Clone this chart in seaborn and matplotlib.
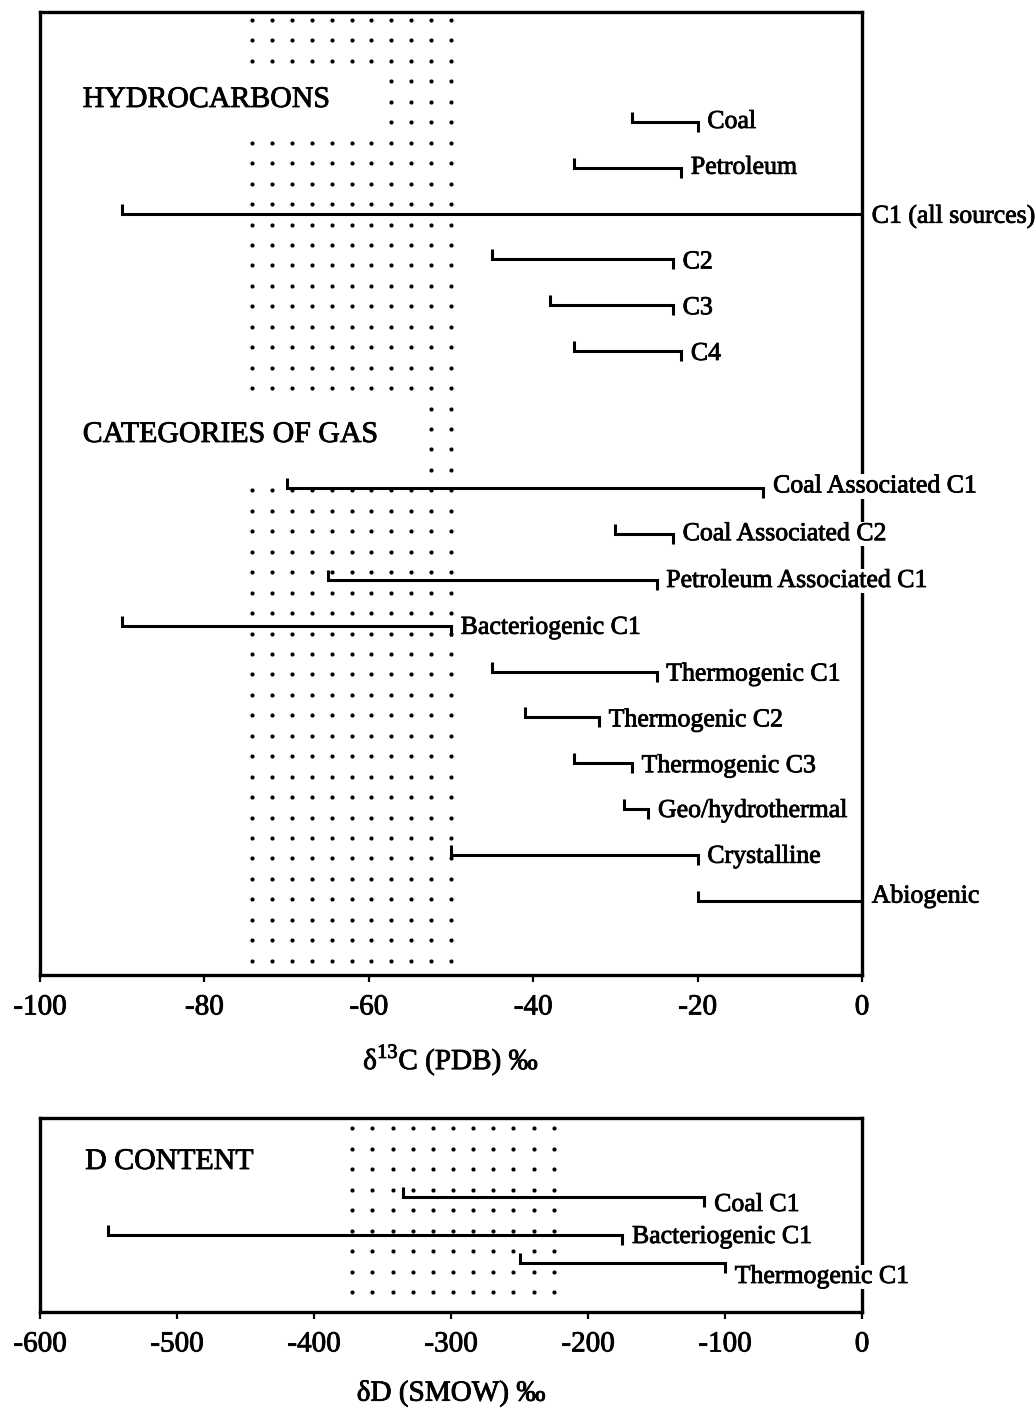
import numpy as np
import pandas as pd
import matplotlib
matplotlib.use("Agg")
import matplotlib.pyplot as plt
import matplotlib.patheffects as pe
import seaborn as sns

# ---- carbon isotope ranges, delta13C (PDB) per mil ----
hydro_names = ["Coal", "Petroleum", "C1 (all sources)", "C2", "C3", "C4"]
hydro_low = [-28, -35, -90, -45, -38, -35]
hydro_high = [-20, -22, 0, -23, -23, -22]

gas_names = ["Coal Associated C1", "Coal Associated C2", "Petroleum Associated C1",
             "Bacteriogenic C1", "Thermogenic C1", "Thermogenic C2", "Thermogenic C3",
             "Geo/hydrothermal", "Crystalline", "Abiogenic"]
gas_low = [-70, -30, -65, -90, -45, -41, -35, -29, -50, -20]
gas_high = [-12, -23, -25, -50, -25, -32, -28, -26, -20, 0]

# ---- deuterium ranges, deltaD (SMOW) per mil ----
d_names = ["Coal C1", "Bacteriogenic C1", "Thermogenic C1"]
d_low = [-335, -550, -250]
d_high = [-115, -175, -100]

# stippled bands
c_band = (-75, -50)
d_band = (-375, -225)

c_ticks = [-100, -80, -60, -40, -20, 0]
d_ticks = [-600, -500, -400, -300, -200, -100, 0]

# ---------------------------------------------------------------
sns.set_style("ticks")
plt.rcParams["font.family"] = ["Liberation Serif", "DejaVu Serif"]
plt.rcParams["axes.unicode_minus"] = False
plt.rcParams["text.color"] = "black"
plt.rcParams["axes.labelcolor"] = "black"
plt.rcParams["xtick.color"] = "black"

INK = [pe.withStroke(linewidth=0.6, foreground="black")]

W, H = 1036, 1414
fig = plt.figure(figsize=(W / 100, H / 100), dpi=100)
fig.patch.set_facecolor("white")

# axes boxes in pixels (left, top, right, bottom)
top_box = (40, 12, 862, 975)
bot_box = (40, 1118, 862, 1312)


def make_axes(box):
    l, t, r, b = box
    return fig.add_axes([l / W, 1 - b / H, (r - l) / W, (b - t) / H])


ax_c = make_axes(top_box)
ax_d = make_axes(bot_box)

LW = 2.2
TICK = 10  # bracket end-tick height (y units are pixels)
LABEL_FS = 18.6


def bracket_frame(names, lows, highs, ys):
    rows = []
    for n, lo, hi, y in zip(names, lows, highs, ys):
        pts = [(lo, y - TICK), (lo, y), (hi, y), (hi, y + TICK)]
        for k, (x, yy) in enumerate(pts):
            rows.append({"row": n, "step": k, "x": x, "y": yy})
    return pd.DataFrame(rows)


def dot_frame(band, n_cols, inset, ys, holes=()):
    xs = np.linspace(band[0] + inset, band[1], n_cols)
    gx, gy = np.meshgrid(xs, ys)
    df = pd.DataFrame({"x": gx.ravel(), "y": gy.ravel()})
    keep = np.ones(len(df), bool)
    for xmax, y0, y1 in holes:
        keep &= ~((df.x < xmax) & (df.y > y0) & (df.y < y1))
    return df[keep]


def style_axes(ax, xlim, ylim_px, ticks, xlabel):
    ax.set_xlim(*xlim)
    ax.set_ylim(ylim_px, 0)
    ax.set_xticks(ticks)
    ax.set_xticklabels([str(t) for t in ticks])
    ax.set_yticks([])
    ax.set_ylabel("")
    ax.tick_params(axis="x", direction="out", length=5, width=1.6,
                   pad=9, labelsize=21, colors="black")
    for lab in ax.get_xticklabels():
        lab.set_path_effects(INK)
    for s in ax.spines.values():
        s.set_visible(True)
        s.set_linewidth(2.4)
        s.set_color("black")
    lbl = ax.set_xlabel(xlabel, fontsize=21, labelpad=16)
    lbl.set_path_effects(INK)


def draw_labels(ax, names, highs, ys, dy_px=None, dx_pt=7):
    for i, (n, hi, y) in enumerate(zip(names, highs, ys)):
        dy = 0 if dy_px is None else dy_px[i]
        t = ax.annotate(n, xy=(hi, y), xytext=(dx_pt, -dy * 0.72),
                        textcoords="offset points", ha="left", va="center",
                        fontsize=LABEL_FS, zorder=4,
                        bbox=dict(boxstyle="square,pad=0.05", fc="white", ec="none"))
        t.set_path_effects(INK)


def heading(ax, x, y, s):
    t = ax.text(x, y, s, fontsize=21.5, ha="left", va="center")
    t.set_path_effects(INK)


# ---------------- upper panel: delta13C ----------------
top_h = top_box[3] - top_box[1]
step = 45.8
hydro_y = [110 + step * k for k in range(len(hydro_names))]
gas_y = [110 + step * (8 + k) for k in range(len(gas_names))]

c_dots = dot_frame(c_band, 11, 0.8, np.arange(8, 955, 20.45),
                   holes=[(-58.5, 55, 115), (-53.5, 385, 460)])
sns.scatterplot(data=c_dots, x="x", y="y", color="black", s=9,
                linewidth=0, ax=ax_c, legend=False, zorder=1)

br = pd.concat([bracket_frame(hydro_names, hydro_low, hydro_high, hydro_y),
                bracket_frame(gas_names, gas_low, gas_high, gas_y)])
sns.lineplot(data=br, x="x", y="y", units="row", estimator=None, sort=False,
             color="black", lw=LW, ax=ax_c, legend=False,
             solid_joinstyle="miter", solid_capstyle="butt", zorder=3)

draw_labels(ax_c, hydro_names, hydro_high, hydro_y,
            dy_px=[0, 0, 3, 3, 3, 3])
draw_labels(ax_c, gas_names, gas_high, gas_y,
            dy_px=[-2, 0, 1, 2, 3, 3, 3, 2, 2, -4])

heading(ax_c, -94.8, 88, "HYDROCARBONS")
heading(ax_c, -94.8, 423, "CATEGORIES OF GAS")

style_axes(ax_c, (-100, 0), top_h, c_ticks, r"δ$^{\mathregular{13}}$C (PDB) ‰")

# ---------------- lower panel: deltaD ----------------
bot_h = bot_box[3] - bot_box[1]
d_y = [79, 117, 145]

d_dots = dot_frame(d_band, 11, 3, np.arange(10, 180, 20.5))
sns.scatterplot(data=d_dots, x="x", y="y", color="black", s=9,
                linewidth=0, ax=ax_d, legend=False, zorder=1)

brd = bracket_frame(d_names, d_low, d_high, d_y)
sns.lineplot(data=brd, x="x", y="y", units="row", estimator=None, sort=False,
             color="black", lw=LW, ax=ax_d, legend=False,
             solid_joinstyle="miter", solid_capstyle="butt", zorder=3)

draw_labels(ax_d, d_names, d_high, d_y, dy_px=[8, 2, 14])

heading(ax_d, -567, 44, "D CONTENT")

style_axes(ax_d, (-600, 0), bot_h, d_ticks, "δD (SMOW) ‰")

fig.savefig("out.png", dpi=100, facecolor="white")
